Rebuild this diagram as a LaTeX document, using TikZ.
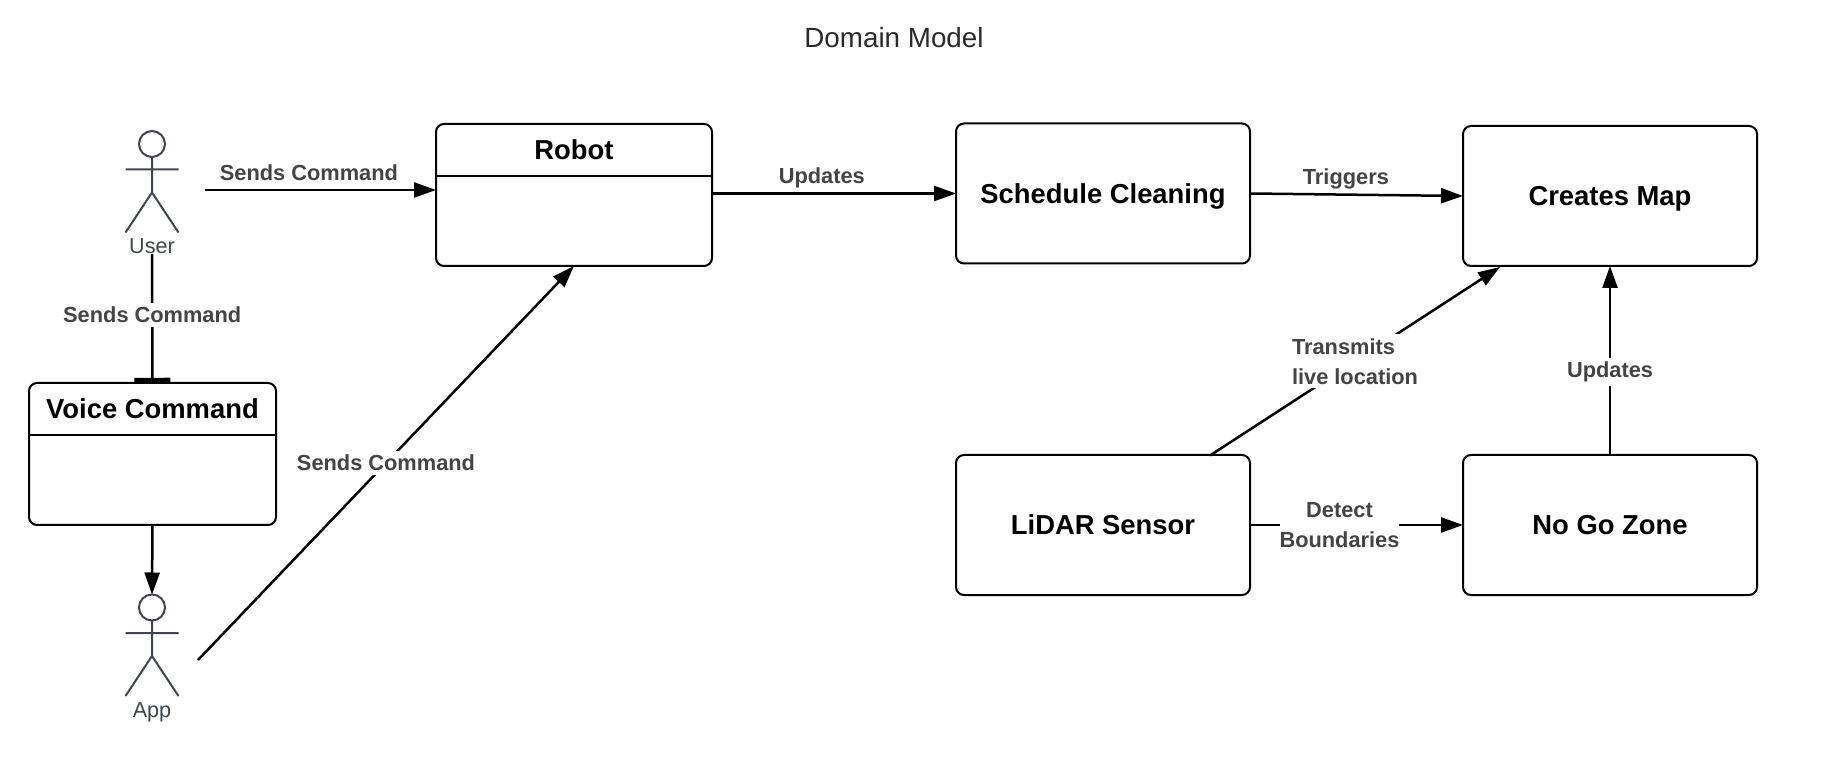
\documentclass[tikz,border=0pt]{standalone}
\usepackage{fontspec}
\setmainfont{Liberation Sans}
\usetikzlibrary{arrows.meta,positioning,calc}
\definecolor{labelgray}{HTML}{444444}
\definecolor{actorgray}{HTML}{3F4650}
\definecolor{titlegray}{HTML}{2A2A2A}
\tikzset{
	box/.style={draw=black,line width=1pt,rounded corners=4pt,inner sep=0pt,outer sep=0pt,text depth=0pt,font=\fontsize{13.7}{16}\selectfont\bfseries},
	bigbox/.style={box,minimum width=147pt,minimum height=70pt},
	classbox/.style={draw=black,line width=1pt,rounded corners=4pt,inner sep=0pt,outer sep=0pt},
	headtext/.style={inner sep=0pt,minimum height=25.5pt,font=\fontsize{13.7}{16}\selectfont\bfseries},
	conn/.style={line width=1.25pt,-{Triangle[length=11pt,width=7.5pt]}},
	edgetext/.style={inner xsep=0pt,inner ysep=2pt,text=labelgray,font=\fontsize{10.9}{15}\selectfont\bfseries},
	actortext/.style={inner sep=0pt,text=actorgray,font=\fontsize{10.8}{12}\selectfont},
	actor/.pic={
		\node[circle,draw=actorgray,line width=1pt,minimum size=13pt,inner sep=0pt,outer sep=0pt] (-head) at (0,0) {};
		\draw[actorgray,line width=1pt] (-head.south) -- (0,48.5) (-26.5,25.5) -- (26.5,25.5) (-26.5,88.5) -- (0,48.5) -- (26.5,88.5);
	},
}
\begin{document}
\begin{tikzpicture}[x=0.5pt,y=-0.5pt]
	\useasboundingbox (0,0) rectangle (1830,774);
	\node[inner sep=0pt,text=titlegray,font=\fontsize{13.9}{16}\selectfont] (title) at (894,38) {Domain Model};
	%
	\pic (user) at (152,144) {actor};
	\pic (app) at (152,607.5) {actor};
	\node[actortext] (userlabel) at (152,246) {User};
	\node[actortext] (applabel) at (152,712) {App};
	%
	\node[classbox,minimum width=138pt,minimum height=71pt] (robot) at (574,195) {};
	\node[headtext,below=0pt of robot.north] (robothead) {Robot};
	\draw[line width=1pt] (robot.west |- robothead.south) -- (robot.east |- robothead.south);
	\node[classbox,minimum width=123.5pt,minimum height=71pt] (voice) at (152.5,454) {};
	\node[headtext,below=0pt of voice.north] (voicehead) {Voice Command};
	\draw[line width=1pt] (voice.west |- voicehead.south) -- (voice.east |- voicehead.south);
	%
	\node[bigbox] (schedule) at (1103,193.5) {Schedule Cleaning};
	\node[bigbox] (creates) at (1610,196) {Creates Map};
	\node[bigbox] (lidar) at (1103,525) {LiDAR Sensor};
	\node[bigbox] (nogo) at (1610,525) {No Go Zone};
	%
	\coordinate (usersend) at (205,190);
	\coordinate (appsend) at (198,660);
	\coordinate (lidarsend) at (1210,455.5);
	\coordinate (createsin) at (1500,267);
	%
	\draw[conn] (usersend) -- node[edgetext,pos=0.45,above=1.8pt] (cmd1) {Sends Command} (robot.west |- usersend);
	\draw[line width=1.25pt,-{Rectangle[length=2.6pt,width=18pt]}] (userlabel.south) -- node[edgetext,fill=white,pos=0.47] (cmd2) {Sends Command} (voice.north);
	\draw[conn] (voice.south) -- (app-head.north);
	\draw[conn] (appsend) -- node[edgetext,fill=white,pos=0.5] (cmd3) {Sends Command} (robot.south);
	\draw[conn] (schedule.west -| robot.east) -- node[edgetext,pos=0.45,above=0pt] (upd1) {Updates} (schedule.west);
	\draw[conn] (schedule.east) -- node[edgetext,pos=0.45,above=0pt] (trig) {Triggers} (creates.west);
	\draw[conn] (lidarsend) -- node[edgetext,fill=white,align=left,pos=0.5] (trans) {Transmits\\live location} (createsin);
	\draw[conn] (lidar.east) -- node[edgetext,fill=white,align=center,pos=0.42] (detect) {Detect\\Boundaries} (nogo.west);
	\draw[conn] (nogo.north) -- node[edgetext,fill=white,pos=0.44] (upd2) {Updates} (creates.south);
\end{tikzpicture}
\end{document}
